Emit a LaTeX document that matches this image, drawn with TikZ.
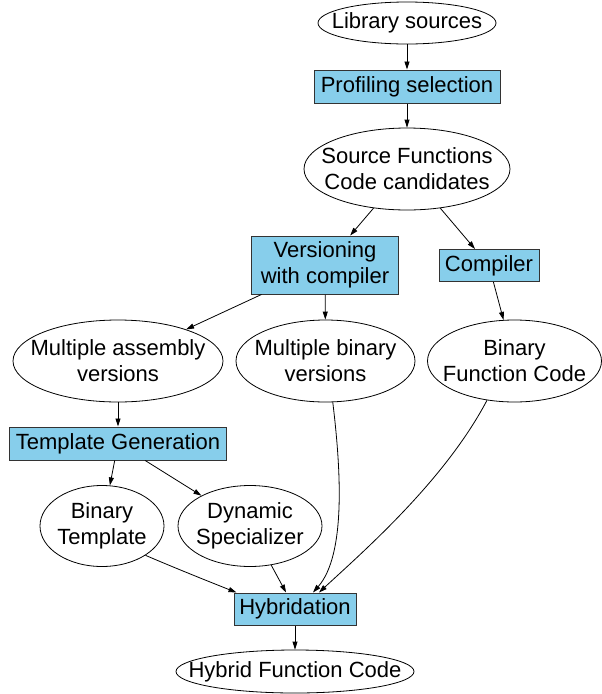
\documentclass[tikz,border=0pt]{standalone}
\usepackage{fontspec}
\setmainfont{Liberation Sans}
\usetikzlibrary{shapes.geometric,arrows.meta}
\definecolor{boxblue}{HTML}{87CEEB}
\begin{document}
\begin{tikzpicture}[x=1pt,y=-1pt,
  font=\fontsize{22}{26}\selectfont,
  ell/.style={ellipse,draw=black,line width=0.8pt,inner sep=0pt},
  proc/.style={rectangle,draw=black!80,fill=boxblue,line width=1pt,inner sep=0pt,align=center},
  arr/.style={line width=0.8pt,-{Triangle[length=8pt,width=5pt]}},
  every label/.style={align=center}]
\useasboundingbox (0,0) rectangle (602,694);
% nodes
\node[ell,minimum width=178pt,minimum height=42pt,label={center:Library sources}] (lib) at (407,23) {};
\node[proc,minimum width=186pt,minimum height=33pt] (prof) at (407,86.5) {Profiling selection};
\node[ell,minimum width=206pt,minimum height=82pt,label={center:Source Functions\\Code candidates}] (src) at (407,169) {};
\node[proc,minimum width=147pt,minimum height=58pt] (vers) at (325,265) {Versioning\\with compiler};
\node[proc,minimum width=100pt,minimum height=32pt] (comp) at (489,265.5) {Compiler};
\node[ell,minimum width=210pt,minimum height=82pt,label={center:Multiple assembly\\versions}] (masm) at (118,361) {};
\node[ell,minimum width=179pt,minimum height=82pt,label={center:Multiple binary\\versions}] (mbin) at (325.5,361) {};
\node[ell,minimum width=174pt,minimum height=82pt,label={center:Binary\\Function Code}] (bfc) at (514.5,361) {};
\node[proc,minimum width=217pt,minimum height=33pt] (tgen) at (118,443.5) {Template Generation};
\node[ell,minimum width=124pt,minimum height=81pt,label={center:Binary\\Template}] (btpl) at (102,526) {};
\node[ell,minimum width=144pt,minimum height=81pt,label={center:Dynamic\\Specializer}] (dyn) at (250,526) {};
\node[proc,minimum width=122pt,minimum height=32pt] (hyb) at (295,609) {Hybridation};
\node[ell,minimum width=238pt,minimum height=43pt,label={center:Hybrid Function Code}] (hfc) at (295,671.5) {};
% edges
\draw[arr] (lib) -- (prof);
\draw[arr] (prof) -- (src);
\draw[arr] (src) -- (vers);
\draw[arr] (src) -- (comp);
\draw[arr] (vers) -- (masm);
\draw[arr] (vers) -- (mbin);
\draw[arr] (comp) -- (bfc);
\draw[arr] (masm) -- (tgen);
\draw[arr] (tgen) -- (btpl);
\draw[arr] (tgen) -- (dyn);
\draw[arr] (dyn) -- (hyb);
\draw[arr] (btpl.-34) .. controls (175,568) and (210,582) .. ([xshift=3pt]hyb.north west);
\draw[arr] (mbin.-80) .. controls (341,470) and (346,555) .. ([xshift=18pt]hyb.north);
\draw[arr] (bfc.-125) .. controls (445,480) and (365,550) .. ([xshift=24pt]hyb.north);
\draw[arr] (hyb) -- (hfc);
\end{tikzpicture}
\end{document}
